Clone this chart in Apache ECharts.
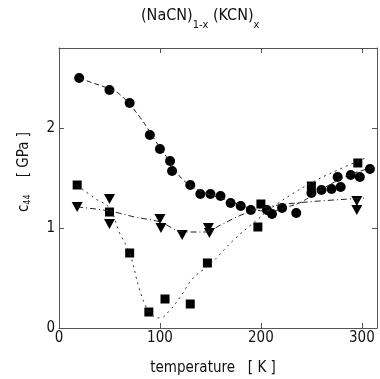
<!DOCTYPE html>
<html><head><meta charset="utf-8">
<script src="https://cdn.jsdelivr.net/npm/echarts@6/dist/echarts.min.js"></script>
<style>html,body{margin:0;padding:0;background:#fff}#c{width:380px;height:379px}</style>
</head><body><div id="c"></div>
<script>
// measured data: [temperature K, c44 GPa]
const circles = [[20,2.50],[50,2.38],[70,2.25],[90,1.93],[100,1.79],[110,1.67],[112,1.57],[130,1.43],[140,1.34],[150,1.34],[160,1.32],[170,1.25],[180,1.22],[190,1.18],[206,1.18],[211,1.14],[221,1.20],[235,1.15],[250,1.35],[260,1.38],[270,1.39],[279,1.41],[276,1.51],[289,1.53],[298,1.51],[308,1.59]];
const squares = [[18,1.43],[50,1.16],[70,0.75],[89,0.16],[105,0.29],[130,0.24],[147,0.65],[197,1.01],[200,1.24],[250,1.42],[296,1.65]];
const triangles = [[18,1.21],[50,1.29],[50,1.04],[100,1.09],[101,1.00],[122,0.93],[148,1.00],[149,0.95],[295,1.27],[295,1.18]];
// fitted guide curves
const circleFit = [[20,2.50],[31,2.46],[50,2.39],[61,2.33],[80,2.11],[97,1.85],[110,1.66],[123,1.48],[140,1.37],[160,1.30],[180,1.23],[195,1.18],[210,1.17],[226,1.21],[240,1.26],[256,1.36],[273,1.46],[290,1.54],[312,1.61]];
const squareFit = [[18,1.43],[35,1.30],[50,1.20],[60,0.95],[70,0.75],[80,0.38],[90,0.15],[100,0.10],[110,0.18],[120,0.31],[133,0.50],[150,0.64],[173,0.88],[196,1.08],[216,1.24],[246,1.43],[276,1.58],[306,1.71]];
const triangleFit = [[18,1.21],[50,1.17],[75,1.11],[100,1.06],[124,0.96],[145,0.96],[160,1.03],[183,1.14],[206,1.21],[246,1.26],[305,1.30]];
const xTicks = [0,100,200,300];
const yTicks = [0,1,2];

const FONT = '"DejaVu Sans Condensed","Liberation Sans Narrow","Liberation Sans",sans-serif';
const chart = echarts.init(document.getElementById('c'), null, {renderer:'canvas'});
const axisCol = '#555';
const baseX = {type:'value', min:0, max:315, interval:100, splitLine:{show:false},
  axisLine:{show:true, onZero:false, lineStyle:{color:axisCol, width:1}},
  axisTick:{show:true, inside:true, length:5, lineStyle:{color:axisCol}}};
const baseY = {type:'value', min:0, max:2.8, interval:1, splitLine:{show:false},
  axisLine:{show:true, onZero:false, lineStyle:{color:axisCol, width:1}},
  axisTick:{show:true, inside:true, length:5, lineStyle:{color:axisCol}}};
chart.setOption({
  animation:false,
  backgroundColor:'#fff',
  grid:{left:59, top:48, right:3, bottom:51},
  xAxis:[
    Object.assign({}, baseX, {position:'bottom', axisLabel:{color:'#111', fontSize:15, fontFamily:FONT, margin:3, showMaxLabel:false,
      formatter:v=> xTicks.includes(v)? String(v):''}}),
    Object.assign({}, baseX, {position:'top', axisLabel:{show:false}})
  ],
  yAxis:[
    Object.assign({}, baseY, {position:'left', axisLabel:{color:'#111', fontSize:15, fontFamily:FONT, margin:4, showMaxLabel:false,
      formatter:v=> yTicks.includes(v)? String(v):''}}),
    Object.assign({}, baseY, {position:'right', axisLabel:{show:false}})
  ],
  graphic:[
    {type:'text', x:141, y:8, style:{
      text:'{a|(NaCN)}{s|1-x}{a| (KCN)}{s|x}',
      rich:{a:{fontSize:16, fontFamily:FONT, fill:'#111', verticalAlign:'top'},
            s:{fontSize:11, fontFamily:FONT, fill:'#111', padding:[12,0,0,0]}}}},
    {type:'text', x:213, y:368, style:{text:'temperature   [ K ]', fontSize:15, fontFamily:FONT, fill:'#111', align:'center', verticalAlign:'middle'}},
    {type:'text', x:24, y:172, rotation:Math.PI/2, style:{
      text:'{c|c}{s|44}{c|    [ GPa ]}', align:'center', verticalAlign:'middle',
      rich:{c:{fontSize:15, fontFamily:FONT, fill:'#111'}, s:{fontSize:9, fontFamily:FONT, fill:'#111', padding:[8,0,0,0]}}}}
  ],
  series:[
    {type:'line', data:circleFit, smooth:0.4, symbol:'none', lineStyle:{color:'#222', width:1, type:[5,3]}},
    {type:'line', data:squareFit, smooth:0.4, symbol:'none', lineStyle:{color:'#333', width:1, type:[2,4]}},
    {type:'line', data:triangleFit, smooth:0.4, symbol:'none', lineStyle:{color:'#222', width:1, type:[6,3,1,3]}},
    {type:'scatter', data:circles, symbol:'circle', symbolSize:10, itemStyle:{color:'#000', opacity:1}},
    {type:'scatter', data:squares, symbol:'rect', symbolSize:9, itemStyle:{color:'#000', opacity:1}},
    {type:'scatter', data:triangles, symbol:'triangle', symbolRotate:180, symbolSize:[11,10], itemStyle:{color:'#000', opacity:1}}
  ]
});
</script></body></html>
